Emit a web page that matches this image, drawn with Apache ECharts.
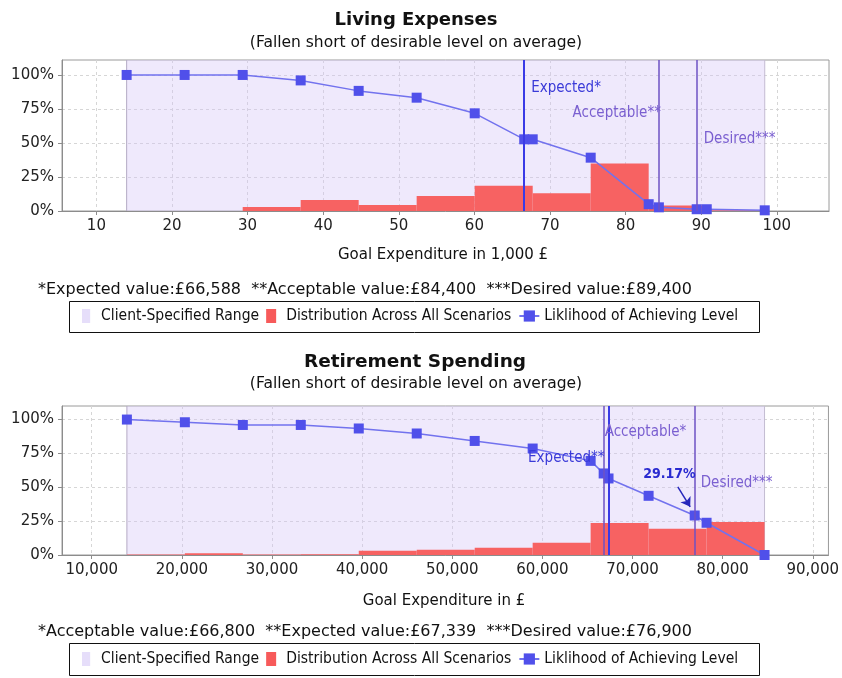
<!DOCTYPE html>
<html><head><meta charset="utf-8">
<script src="https://cdn.jsdelivr.net/npm/echarts@6/dist/echarts.min.js"></script>
<style>html,body{margin:0;padding:0;background:#fff}#c{width:842px;height:678px}</style>
</head><body><div id="c"></div>
<script>
// ---------- DATA ----------
const topRange = [14, 98.4];
const topEdges = [14, 21.67, 29.35, 37.02, 44.69, 52.36, 60.04, 67.71, 75.38, 83.05, 90.73, 98.4];
const topBars = [0, 0, 3, 8, 4.5, 11, 18.5, 13, 35, 4, 0.6];
const topLineX = [14, 21.67, 29.35, 37.02, 44.69, 52.36, 60.04, 66.588, 67.71, 75.38, 83.05, 84.4, 89.4, 90.73, 98.4];
const topLineY = [100, 100, 100, 96, 88.3, 83.3, 71.8, 52.7, 52.7, 39.2, 5, 2.7, 1.3, 1.3, 0.5];
const topMarks = [66.588, 84.4, 89.4];
const topMarkNames = ['Expected*', 'Acceptable**', 'Desired***'];
const topTicks = [10, 20, 30, 40, 50, 60, 70, 80, 90, 100];

const botRange = [13900, 84650];
const botEdges = [13900, 20332, 26764, 33195, 39627, 46059, 52491, 58923, 65355, 71786, 78218, 84650];
const botBars = [0.3, 1.3, 0.3, 0.6, 3.2, 3.8, 5.4, 9.0, 23.6, 19.3, 24.3];
const botLineX = [13900, 20332, 26764, 33195, 39627, 46059, 52491, 58923, 65355, 66800, 67339, 71786, 76900, 78218, 84650];
const botLineY = [100, 98, 96, 96, 93.4, 89.7, 84.2, 78.6, 69.5, 60.2, 56.5, 43.7, 29.17, 23.8, 0];
const botMarks = [66800, 67339, 76900];
const botMarkNames = ['Acceptable*', 'Expected**', 'Desired***'];
const botTicks = [10000, 20000, 30000, 40000, 50000, 60000, 70000, 80000, 90000];
const botCallout = { x: 76900, y: 29.17, text: '29.17%' };

const yTicks = [0, 25, 50, 75, 100];
const legendNames = ['Client-Specified Range', 'Distribution Across All Scenarios', 'Liklihood of Achieving Level'];

const titles = ['Living Expenses', 'Retirement Spending'];
const subtitle = '(Fallen short of desirable level on average)';
const axisNames = ['Goal Expenditure in 1,000 £', 'Goal Expenditure in £'];
const footnotes = [
  '*Expected value:£66,588  **Acceptable value:£84,400  ***Desired value:£89,400',
  '*Acceptable value:£66,800  **Expected value:£67,339  ***Desired value:£76,900'
];

// ---------- STYLE ----------
const F = '"DejaVu Sans", sans-serif';
const FC = '"DejaVu Sans Condensed", "Liberation Sans", "DejaVu Sans", sans-serif';
const BLUE = '#3a3ae6', PURPLE = '#6e52c4';
const LBLUE = '#3a3ad8', LPURPLE = '#7a5fd0';

const chart = echarts.init(document.getElementById('c'));

function rangeRender(params, api) {
  const cs = params.coordSys;
  const p0 = api.coord([api.value(0), 0]);
  const p1 = api.coord([api.value(1), 0]);
  return { type: 'group', children: [
    { type: 'rect', shape: { x: p0[0], y: cs.y, width: p1[0] - p0[0], height: cs.height },
      style: { fill: 'rgba(212,196,246,0.38)' } },
    { type: 'line', shape: { x1: p0[0], y1: cs.y, x2: p0[0], y2: cs.y + cs.height }, style: { stroke: '#b4aac4', lineWidth: 1 } },
    { type: 'line', shape: { x1: p1[0], y1: cs.y, x2: p1[0], y2: cs.y + cs.height }, style: { stroke: '#c4bcd2', lineWidth: 1 } }
  ]};
}
function barRender(params, api) {
  const a = api.coord([api.value(0), api.value(2)]);
  const b = api.coord([api.value(1), 0]);
  return { type: 'rect', shape: { x: a[0], y: a[1], width: b[0] - a[0], height: b[1] - a[1] },
    style: { fill: '#f76262' } };
}

const barData = (edges, h) => h.map((v, i) => [edges[i], edges[i + 1], v]);
const lineData = (xs, ys) => xs.map((x, i) => [x, ys[i]]);

function xAxis(idx, min, max, ticks, fmt) {
  return {
    type: 'value', gridIndex: idx, min, max,
    axisLine: { show: true, lineStyle: { color: '#8c8c8c' } },
    axisTick: { show: true, length: 4, customValues: ticks, lineStyle: { color: '#8c8c8c' } },
    axisLabel: { customValues: ticks, formatter: fmt, color: '#222', fontFamily: F, fontSize: 15, margin: 8 },
    splitLine: { show: true, lineStyle: { color: '#d6d6d6', type: [3, 3] } }
  };
}
function yAxis(idx, max) {
  return {
    type: 'value', gridIndex: idx, min: 0, max,
    axisLine: { show: true, lineStyle: { color: '#8c8c8c' } },
    axisTick: { show: true, length: 4, customValues: yTicks, lineStyle: { color: '#8c8c8c' } },
    axisLabel: { customValues: yTicks, formatter: '{value}%', color: '#222', fontFamily: F, fontSize: 15, margin: 8 },
    splitLine: { show: true, lineStyle: { color: '#d6d6d6', type: [3, 3] } }
  };
}

function markLabel(x, y, text, color, pos, dist) {
  return { coord: [x, y], symbolSize: 0,
    label: { show: true, formatter: text, position: pos, distance: dist, color, fontFamily: FC, fontSize: 15 } };
}

function legend(top) {
  return {
    top, left: 82, orient: 'horizontal', itemWidth: 20, itemHeight: 14, itemGap: 7,
    padding: 0, borderWidth: 0, selectedMode: false,
    textStyle: { fontFamily: FC, fontSize: 15.5, color: '#111' },
    data: [
      { name: legendNames[0], icon: 'path://M0,0L7,0L7,12L0,12Z', itemStyle: { color: '#e6defa' } },
      { name: legendNames[1], icon: 'path://M0,0L10,0L10,14L0,14Z', itemStyle: { color: '#f75a5a' } },
      { name: legendNames[2] }
    ]
  };
}

const lineCommon = {
  type: 'line', symbol: 'rect', symbolSize: 10, z: 3,
  itemStyle: { color: '#5050ea' }, lineStyle: { color: '#7272ee', width: 1.5 }, animation: false
};

const option = {
  animation: false,
  grid: [
    { left: 62, right: 13, top: 60, height: 151, show: true, borderColor: '#9a9a9a', borderWidth: 1, backgroundColor: '#fff' },
    { left: 62, right: 13, top: 406, height: 149, show: true, borderColor: '#9a9a9a', borderWidth: 1, backgroundColor: '#fff' }
  ],
  xAxis: [
    xAxis(0, 5.45, 106.9, topTicks, v => String(v)),
    xAxis(1, 6700, 91740, botTicks, v => v.toLocaleString('en-US'))
  ],
  yAxis: [yAxis(0, 111), yAxis(1, 110)],
  legend: [legend(308), legend(651)],
  graphic: [
    { type: 'text', x: 416, y: 20, style: { text: titles[0], textAlign: 'center', textVerticalAlign: 'middle', font: 'bold 18px ' + F, fill: '#111' } },
    { type: 'text', x: 416, y: 43, style: { text: subtitle, textAlign: 'center', textVerticalAlign: 'middle', font: '15.5px ' + F, fill: '#111' } },
    { type: 'text', x: 415, y: 362, style: { text: titles[1], textAlign: 'center', textVerticalAlign: 'middle', font: 'bold 18.5px ' + F, fill: '#111' } },
    { type: 'text', x: 416, y: 384, style: { text: subtitle, textAlign: 'center', textVerticalAlign: 'middle', font: '15.5px ' + F, fill: '#111' } },
    { type: 'text', x: 443, y: 255, style: { text: axisNames[0], textAlign: 'center', textVerticalAlign: 'middle', font: '15px ' + F, fill: '#111' } },
    { type: 'text', x: 444, y: 601, style: { text: axisNames[1], textAlign: 'center', textVerticalAlign: 'middle', font: '15px ' + F, fill: '#111' } },
    { type: 'text', x: 38, y: 290, style: { text: footnotes[0], textAlign: 'left', textVerticalAlign: 'middle', font: '16px ' + F, fill: '#111' } },
    { type: 'text', x: 38, y: 632, style: { text: footnotes[1], textAlign: 'left', textVerticalAlign: 'middle', font: '16px ' + F, fill: '#111' } },
    { type: 'rect', shape: { x: 69.5, y: 301.5, width: 690, height: 31 }, style: { fill: 'none', stroke: '#111', lineWidth: 1 }, z: -1 },
    { type: 'rect', shape: { x: 69.5, y: 643.5, width: 690, height: 32 }, style: { fill: 'none', stroke: '#111', lineWidth: 1 }, z: -1 }
  ],
  series: [
    { name: legendNames[0], type: 'custom', xAxisIndex: 0, yAxisIndex: 0, data: [topRange], renderItem: rangeRender,
      encode: { x: [0, 1] }, itemStyle: { color: '#e6defa' }, z: 1, silent: true },
    { name: legendNames[1], type: 'custom', xAxisIndex: 0, yAxisIndex: 0, data: barData(topEdges, topBars), renderItem: barRender,
      encode: { x: [0, 1], y: 2 }, itemStyle: { color: '#f75a5a' }, z: 2, silent: true },
    Object.assign({}, lineCommon, {
      name: legendNames[2], xAxisIndex: 0, yAxisIndex: 0, data: lineData(topLineX, topLineY),
      markLine: { silent: true, symbol: ['none', 'none'], label: { show: false }, data: [
        { xAxis: topMarks[0], lineStyle: { color: BLUE, width: 2, type: 'solid' } },
        { xAxis: topMarks[1], lineStyle: { color: PURPLE, width: 1.5, type: 'solid' } },
        { xAxis: topMarks[2], lineStyle: { color: PURPLE, width: 1.5, type: 'solid' } }
      ]},
      markPoint: { silent: true, symbol: 'circle', data: [
        markLabel(topMarks[0], 90.7, topMarkNames[0], LBLUE, 'right', 7),
        markLabel(topMarks[1], 71.8, topMarkNames[1], LPURPLE, 'left', -2),
        markLabel(topMarks[2], 52.7, topMarkNames[2], LPURPLE, 'right', 7)
      ]}
    }),
    { name: legendNames[0], type: 'custom', xAxisIndex: 1, yAxisIndex: 1, data: [botRange], renderItem: rangeRender,
      encode: { x: [0, 1] }, itemStyle: { color: '#e6defa' }, z: 1, silent: true },
    { name: legendNames[1], type: 'custom', xAxisIndex: 1, yAxisIndex: 1, data: barData(botEdges, botBars), renderItem: barRender,
      encode: { x: [0, 1], y: 2 }, itemStyle: { color: '#f75a5a' }, z: 2, silent: true },
    Object.assign({}, lineCommon, {
      name: legendNames[2], xAxisIndex: 1, yAxisIndex: 1, data: lineData(botLineX, botLineY),
      markLine: { silent: true, symbol: ['none', 'none'], label: { show: false }, data: [
        { xAxis: botMarks[0], lineStyle: { color: PURPLE, width: 1.5, type: 'solid' } },
        { xAxis: botMarks[1], lineStyle: { color: BLUE, width: 2, type: 'solid' } },
        { xAxis: botMarks[2], lineStyle: { color: PURPLE, width: 1.5, type: 'solid' } },
        [
          { coord: [75027, 50.3], symbol: 'none', lineStyle: { color: '#2626bb', width: 1.5, type: 'solid' } },
          { coord: [botCallout.x - 500, botCallout.y + 6.4], symbol: 'arrow', symbolSize: 9, lineStyle: { color: '#2626bb', width: 1.5, type: 'solid' } }
        ]
      ]},
      markPoint: { silent: true, symbol: 'circle', data: [
        markLabel(botMarks[0], 90.9, botMarkNames[0], LPURPLE, 'right', 1),
        markLabel(botMarks[1], 71.3, botMarkNames[1], LBLUE, 'left', 4),
        markLabel(botMarks[2], 52.8, botMarkNames[2], LPURPLE, 'right', 6),
        { coord: [74105, 59.7], symbolSize: 0, label: { show: true, position: 'inside', formatter: botCallout.text,
          color: '#2a2ad0', fontFamily: FC, fontSize: 14, fontWeight: 'bold' } }
      ]}
    })
  ]
};
chart.setOption(option);
</script>
</body></html>
